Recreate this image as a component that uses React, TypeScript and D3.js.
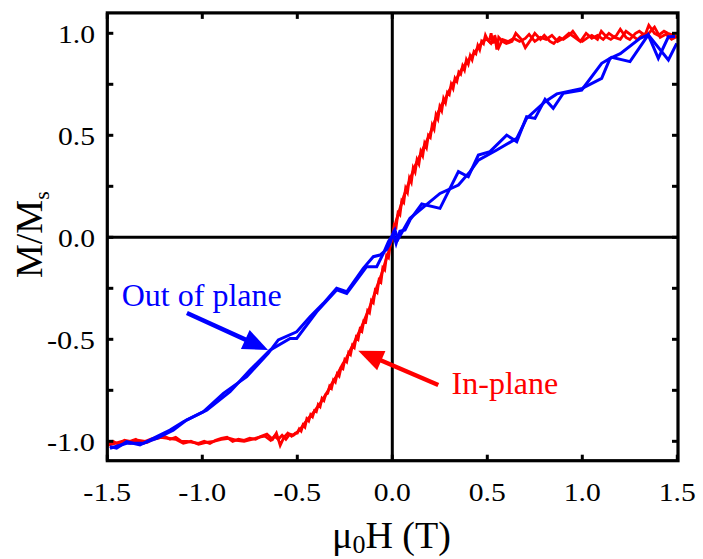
import React from 'react';
import * as d3 from 'd3';

// In-plane (red) – two sweep branches [mu0H (T), M/Ms]
const inPlaneA: [number, number][] = [
  [-1.5, -1.01], [-1.47, -1.0], [-1.44, -1.015], [-1.41, -0.995], [-1.38, -1.0], [-1.35, -0.99],
  [-1.32, -1.01], [-1.29, -1.005], [-1.26, -0.99], [-1.23, -0.985], [-1.2, -0.975], [-1.17, -0.99],
  [-1.14, -0.98], [-1.11, -1.0], [-1.08, -1.0], [-1.05, -1.005], [-1.02, -1.01], [-0.99, -1.0],
  [-0.96, -1.01], [-0.93, -0.995], [-0.9, -0.985], [-0.87, -0.98], [-0.84, -1.0], [-0.81, -0.99],
  [-0.78, -0.995], [-0.75, -0.985], [-0.72, -0.99], [-0.69, -0.975], [-0.66, -0.965], [-0.63, -0.99],
  [-0.61, -0.96], [-0.59, -1.02], [-0.57, -0.98], [-0.55, -0.96], [-0.53, -0.975], [-0.51, -0.96],
  [-0.5, -0.96], [-0.49, -0.94], [-0.48, -0.95], [-0.47, -0.92], [-0.46, -0.93], [-0.45, -0.89],
  [-0.44, -0.9], [-0.43, -0.87], [-0.42, -0.88], [-0.41, -0.85], [-0.4, -0.855], [-0.39, -0.82],
  [-0.38, -0.83], [-0.37, -0.79], [-0.36, -0.8], [-0.35, -0.77], [-0.34, -0.765], [-0.33, -0.73],
  [-0.32, -0.74], [-0.31, -0.7], [-0.3, -0.71], [-0.29, -0.67], [-0.28, -0.68], [-0.27, -0.64],
  [-0.26, -0.645], [-0.25, -0.6], [-0.24, -0.61], [-0.23, -0.565], [-0.22, -0.575], [-0.21, -0.53],
  [-0.2, -0.54], [-0.19, -0.49], [-0.18, -0.5], [-0.17, -0.45], [-0.16, -0.46], [-0.15, -0.41],
  [-0.14, -0.415], [-0.13, -0.36], [-0.12, -0.37], [-0.11, -0.31], [-0.1, -0.32], [-0.09, -0.26],
  [-0.08, -0.27], [-0.07, -0.21], [-0.06, -0.22], [-0.05, -0.15], [-0.04, -0.16], [-0.03, -0.09],
  [-0.02, -0.1], [-0.01, -0.03], [0.0, 0.0], [0.01, 0.06], [0.02, 0.05], [0.03, 0.12], [0.04, 0.11],
  [0.05, 0.18], [0.06, 0.17], [0.07, 0.24], [0.08, 0.22], [0.09, 0.29], [0.1, 0.27], [0.11, 0.34],
  [0.12, 0.32], [0.13, 0.38], [0.14, 0.36], [0.15, 0.42], [0.16, 0.4], [0.17, 0.46], [0.18, 0.44],
  [0.19, 0.5], [0.2, 0.49], [0.21, 0.55], [0.22, 0.53], [0.23, 0.6], [0.24, 0.58], [0.25, 0.64],
  [0.26, 0.62], [0.27, 0.68], [0.28, 0.66], [0.29, 0.71], [0.3, 0.7], [0.31, 0.75], [0.32, 0.73],
  [0.33, 0.78], [0.34, 0.765], [0.35, 0.81], [0.36, 0.8], [0.37, 0.84], [0.38, 0.82], [0.39, 0.87],
  [0.4, 0.85], [0.41, 0.89], [0.42, 0.87], [0.43, 0.91], [0.44, 0.9], [0.45, 0.94], [0.46, 0.92],
  [0.47, 0.96], [0.48, 0.95], [0.49, 0.99], [0.5, 0.97], [0.51, 0.96], [0.52, 1.0],
  [0.53, 0.95], [0.54, 0.99], [0.55, 0.92], [0.56, 0.98], [0.58, 0.96], [0.6, 0.95], [0.63, 0.96],
  [0.65, 1.0], [0.68, 0.97], [0.7, 0.93], [0.73, 0.97], [0.75, 1.0], [0.78, 0.97], [0.8, 0.99],
  [0.83, 0.96], [0.85, 0.95], [0.88, 0.98], [0.9, 0.97], [0.93, 0.99], [0.95, 1.01], [0.98, 0.97],
  [1.0, 0.96], [1.03, 0.98], [1.05, 0.99], [1.08, 0.97], [1.1, 1.01], [1.13, 0.98], [1.15, 0.97],
  [1.18, 0.99], [1.2, 1.02], [1.23, 0.98], [1.25, 0.97], [1.28, 1.0], [1.3, 1.01], [1.33, 0.99],
  [1.35, 1.04], [1.38, 1.0], [1.4, 0.99], [1.43, 1.01], [1.45, 1.0], [1.48, 0.99], [1.5, 0.98],
];

const inPlaneB: [number, number][] = [
  [-1.5, -1.02], [-1.46, -1.01], [-1.42, -1.0], [-1.38, -1.01], [-1.34, -0.995], [-1.3, -1.0],
  [-1.26, -0.985], [-1.22, -0.98], [-1.18, -0.985], [-1.14, -0.99], [-1.1, -1.01], [-1.06, -1.0],
  [-1.02, -1.015], [-0.98, -1.005], [-0.94, -1.0], [-0.9, -0.99], [-0.86, -0.985], [-0.82, -0.995],
  [-0.78, -1.0], [-0.74, -0.99], [-0.7, -0.98], [-0.67, -0.975], [-0.64, -0.995], [-0.62, -0.975],
  [-0.6, -0.99], [-0.58, -0.97], [-0.56, -0.99], [-0.54, -0.965], [-0.52, -0.97], [-0.5, -0.955],
  [-0.48, -0.935], [-0.46, -0.91], [-0.44, -0.885], [-0.42, -0.865], [-0.4, -0.84], [-0.38, -0.815],
  [-0.36, -0.785], [-0.34, -0.755], [-0.32, -0.72], [-0.3, -0.69], [-0.28, -0.655], [-0.26, -0.62],
  [-0.24, -0.59], [-0.22, -0.55], [-0.2, -0.515], [-0.18, -0.475], [-0.16, -0.435], [-0.14, -0.39],
  [-0.12, -0.345], [-0.1, -0.295], [-0.08, -0.24], [-0.06, -0.19], [-0.04, -0.13], [-0.02, -0.07],
  [0.0, 0.0], [0.02, 0.08], [0.04, 0.14], [0.06, 0.2], [0.08, 0.25], [0.1, 0.3], [0.12, 0.35],
  [0.14, 0.39], [0.16, 0.43], [0.18, 0.47], [0.2, 0.51], [0.22, 0.56], [0.24, 0.61], [0.26, 0.65],
  [0.28, 0.68], [0.3, 0.72], [0.32, 0.755], [0.34, 0.78], [0.36, 0.815], [0.38, 0.845], [0.4, 0.87],
  [0.42, 0.89], [0.44, 0.915], [0.46, 0.94], [0.48, 0.965], [0.5, 0.97], [0.52, 0.95], [0.54, 0.98],
  [0.56, 0.93], [0.58, 0.97], [0.61, 0.96], [0.64, 0.975], [0.67, 0.96], [0.7, 0.975], [0.72, 0.995],
  [0.75, 0.96], [0.78, 0.98], [0.81, 0.97], [0.84, 0.99], [0.87, 0.96], [0.9, 0.975], [0.93, 1.0],
  [0.96, 0.98], [0.99, 0.96], [1.02, 1.0], [1.05, 0.975], [1.08, 0.99], [1.11, 0.97], [1.14, 1.0],
  [1.17, 0.98], [1.2, 0.97], [1.23, 1.01], [1.26, 0.99], [1.29, 0.97], [1.32, 0.995], [1.35, 1.0],
  [1.38, 1.03], [1.41, 0.98], [1.44, 0.995], [1.47, 0.97], [1.5, 0.985],
];

// Out-of-plane (blue) – two sweep branches
const outPlaneA: [number, number][] = [
  [-1.486, -1.026], [-1.451, -1.034], [-1.398, -1.002], [-1.328, -1.018], [-1.24, -0.977],
  [-1.17, -0.945], [-1.1, -0.904], [-0.995, -0.855], [-0.889, -0.765], [-0.766, -0.683],
  [-0.653, -0.569], [-0.6, -0.503], [-0.503, -0.463], [-0.433, -0.389], [-0.363, -0.324],
  [-0.293, -0.25], [-0.24, -0.267], [-0.153, -0.152], [-0.1, -0.095], [-0.065, -0.087],
  [-0.03, -0.06], [-0.012, -0.029], [0.005, 0.02], [0.02, -0.03], [0.04, 0.03], [0.067, 0.036],
  [0.093, 0.085], [0.155, 0.163], [0.251, 0.142],
  [0.348, 0.322], [0.4, 0.297], [0.453, 0.403], [0.514, 0.42], [0.602, 0.501], [0.655, 0.469],
  [0.707, 0.591], [0.751, 0.583], [0.804, 0.676], [0.847, 0.632], [0.9, 0.706], [0.997, 0.722],
  [1.102, 0.853], [1.155, 0.882], [1.251, 0.861], [1.347, 0.992], [1.4, 0.877], [1.453, 0.983],
  [1.488, 0.984],
];

const outPlaneB: [number, number][] = [
  [-1.486, -1.034], [-1.398, -1.01], [-1.31, -1.01], [-1.24, -0.985], [-1.153, -0.945],
  [-1.083, -0.896], [-0.977, -0.847], [-0.854, -0.757], [-0.749, -0.651], [-0.644, -0.553],
  [-0.538, -0.496], [-0.503, -0.496], [-0.398, -0.365], [-0.293, -0.258], [-0.24, -0.275],
  [-0.135, -0.144], [-0.082, -0.144], [-0.047, -0.079], [-0.02, -0.02], [-0.003, 0.004],
  [0.014, 0.036], [0.03, -0.01],
  [0.093, 0.093], [0.251, 0.215], [0.348, 0.256], [0.409, 0.322], [0.453, 0.378], [0.55, 0.428],
  [0.655, 0.485], [0.707, 0.583], [0.804, 0.665], [0.866, 0.703], [1.0, 0.73], [1.102, 0.779],
  [1.146, 0.877], [1.2, 0.9], [1.304, 0.975], [1.347, 0.992], [1.453, 0.869], [1.497, 0.951],
];

const xTicks = [-1.5, -1.0, -0.5, 0.0, 0.5, 1.0, 1.5];
const xTickLabels = ['-1.5', '-1.0', '-0.5', '0.0', '0.5', '1.0', '1.5'];
const yTicks = [-1.0, -0.5, 0.0, 0.5, 1.0];
const yTickLabels = ['-1.0', '-0.5', '0.0', '0.5', '1.0'];
const yMinorTicks = [-0.75, -0.25, 0.25, 0.75];

// annotations in data units
const outLabel = { text: 'Out of plane', x: -1.424, y: -0.337 };
const outArrow = { from: [-1.081, -0.371], to: [-0.654, -0.552] };
const inLabel = { text: 'In-plane', x: 0.312, y: -0.768 };
const inArrow = { from: [0.242, -0.724], to: [-0.179, -0.556] };

const W = 703;
const H = 559;
const FONT = '"Liberation Serif", "Times New Roman", Times, serif';

export default function App() {
  const x = d3.scaleLinear().domain([-1.5, 1.5]).range([107.3, 677.3]);
  const y = d3.scaleLinear().domain([-1.095, 1.1]).range([460.7, 12.9]);
  const left = x(-1.5);
  const right = x(1.5) + 0.7;
  const top = y(1.1);
  const bottom = y(-1.095);

  const line = d3
    .line<[number, number]>()
    .x((d) => x(d[0]))
    .y((d) => y(d[1]));

  const arrow = (a: { from: number[]; to: number[] }, color: string) => {
    const x1 = x(a.from[0]);
    const y1 = y(a.from[1]);
    const x2 = x(a.to[0]);
    const y2 = y(a.to[1]);
    const dx = x2 - x1;
    const dy = y2 - y1;
    const len = Math.hypot(dx, dy);
    const ux = dx / len;
    const uy = dy / len;
    const hl = 25;
    const hw = 10.5;
    const bx = x2 - ux * hl;
    const by = y2 - uy * hl;
    const pts = [
      [x2, y2],
      [bx - uy * hw, by + ux * hw],
      [bx + uy * hw, by - ux * hw],
    ];
    return (
      <g>
        <line x1={x1} y1={y1} x2={bx + ux * 2} y2={by + uy * 2} stroke={color} strokeWidth={4.5} />
        <polygon points={pts.map((p) => p.join(',')).join(' ')} fill={color} />
      </g>
    );
  };

  const tl = (s: string) => (s.startsWith('-') ? 48 : 37);

  return (
    <svg
      width={W}
      height={H}
      style={{ position: 'absolute', left: 0, top: 0, background: '#fff' }}
      fontFamily={FONT}
    >
      <rect x={0} y={0} width={W} height={H} fill="#fff" />
      {/* zero lines */}
      <line x1={left} x2={right} y1={y(0)} y2={y(0)} stroke="#000" strokeWidth={3} />
      <line x1={x(0)} x2={x(0)} y1={top} y2={bottom} stroke="#000" strokeWidth={3} />

      {/* data */}
      <path d={line(inPlaneA) || ''} fill="none" stroke="#ff0000" strokeWidth={2.8} />
      <path d={line(inPlaneB) || ''} fill="none" stroke="#ff0000" strokeWidth={2.8} />
      <path d={line(outPlaneA) || ''} fill="none" stroke="#0000ff" strokeWidth={3} />
      <path d={line(outPlaneB) || ''} fill="none" stroke="#0000ff" strokeWidth={3} />

      {/* frame */}
      <rect x={left} y={top} width={right - left} height={bottom - top} fill="none" stroke="#000" strokeWidth={3.2} />

      {/* ticks */}
      {xTicks.map((t) => (
        <g key={'xt' + t}>
          <line x1={x(t)} x2={x(t)} y1={bottom} y2={bottom - 6} stroke="#000" strokeWidth={3} />
          <line x1={x(t)} x2={x(t)} y1={top} y2={top + 6} stroke="#000" strokeWidth={3} />
        </g>
      ))}
      {[...yTicks, ...yMinorTicks].map((t) => (
        <g key={'yt' + t}>
          <line x1={left} x2={left + 6} y1={y(t)} y2={y(t)} stroke="#000" strokeWidth={3} />
          <line x1={right} x2={right - 6} y1={y(t)} y2={y(t)} stroke="#000" strokeWidth={3} />
        </g>
      ))}

      {/* tick labels */}
      {xTicks.map((t, i) => (
        <text
          key={'xl' + t}
          x={x(t)}
          y={501}
          fontSize={26}
          textAnchor="middle"
          textLength={tl(xTickLabels[i])}
          lengthAdjust="spacingAndGlyphs"
          fill="#000"
        >
          {xTickLabels[i]}
        </text>
      ))}
      {yTicks.map((t, i) => (
        <text
          key={'yl' + t}
          x={95}
          y={y(t) + 10}
          fontSize={26}
          textAnchor="end"
          textLength={tl(yTickLabels[i])}
          lengthAdjust="spacingAndGlyphs"
          fill="#000"
        >
          {yTickLabels[i]}
        </text>
      ))}

      {/* axis titles */}
      <text x={332} y={548} fontSize={38} fill="#000">
        μ
        <tspan fontSize={26} dy={5}>0</tspan>
        <tspan dy={-5}>H (T)</tspan>
      </text>
      <text transform="translate(42,278) rotate(-90)" fontSize={38} fill="#000">
        M/M
        <tspan fontSize={22} dy={7}>s</tspan>
      </text>

      {/* annotations */}
      <text x={x(outLabel.x)} y={y(outLabel.y)} fontSize={32} fill="#0000ff">
        {outLabel.text}
      </text>
      {arrow(outArrow, '#0000ff')}
      <text x={x(inLabel.x)} y={y(inLabel.y)} fontSize={32} fill="#ff0000">
        {inLabel.text}
      </text>
      {arrow(inArrow, '#ff0000')}
    </svg>
  );
}
